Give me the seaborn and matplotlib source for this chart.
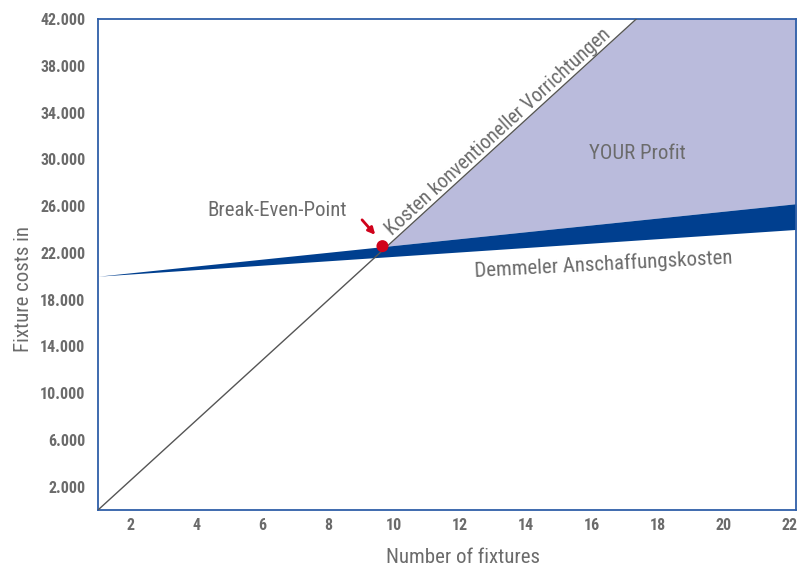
import numpy as np
import pandas as pd
import matplotlib
matplotlib.use("Agg")
import matplotlib.pyplot as plt
from matplotlib import font_manager
import seaborn as sns

# ---- data ----
fixtures = [1.0, 22.2]
conventional_costs = [0.0, 54460.0]      # Kosten konventioneller Vorrichtungen
demmeler_upper = [20000.0, 26200.0]      # Demmeler Anschaffungskosten (upper edge)
demmeler_lower = [20000.0, 24000.0]      # Demmeler Anschaffungskosten (lower edge)
break_even = (9.64, 22570.0)
x_ticks = [2, 4, 6, 8, 10, 12, 14, 16, 18, 20, 22]
y_ticks = [2000, 6000, 10000, 14000, 18000, 22000, 26000, 30000, 34000, 38000, 42000]
y_ticklabels = ["2.000", "6.000", "10.000", "14.000", "18.000", "22.000",
                "26.000", "30.000", "34.000", "38.000", "42.000"]

sns.set_style("white")
fam = ['DejaVu Sans']
for cand in ['Roboto Condensed', 'Liberation Sans Narrow', 'DejaVu Sans Condensed']:
    if any(f.name == cand for f in font_manager.fontManager.ttflist):
        fam = [cand, 'DejaVu Sans']
        break
plt.rcParams['font.family'] = fam
plt.rcParams['font.stretch'] = 'condensed'

GRAY = "#6b6b6b"
NAVY = "#003f8f"
LILAC = "#babbdc"
SPINE = "#2f5fa8"
RED = "#d0021b"
FS = 15

fig = plt.figure(figsize=(8.11, 5.69), dpi=100)
ax = fig.add_axes([98/811, 59/569, 698/811, 491/569])

df = pd.DataFrame({"x": fixtures, "conv": conventional_costs,
                   "up": demmeler_upper, "lo": demmeler_lower})

xs = np.linspace(fixtures[0], fixtures[1], 400)
conv = np.interp(xs, fixtures, conventional_costs)
up = np.interp(xs, fixtures, demmeler_upper)
lo = np.interp(xs, fixtures, demmeler_lower)

ax.fill_between(xs, up, conv, where=conv >= up, color=LILAC, lw=0, interpolate=True, zorder=1)
ax.fill_between(xs, lo, up, color=NAVY, lw=0, zorder=2)
sns.lineplot(data=df, x="x", y="conv", ax=ax, color="#555555", lw=1.0, zorder=3)
ax.scatter([break_even[0]], [break_even[1]], s=75, color=RED, zorder=5, edgecolor="none")

ax.set_xlim(1, 22.2)
ax.set_ylim(0, 42000)
ax.set_xticks(x_ticks)
ax.set_xticklabels([str(t) for t in x_ticks])
ax.set_yticks(y_ticks)
ax.set_yticklabels(y_ticklabels)
ax.tick_params(length=0, labelsize=11.5, colors=GRAY)
ax.tick_params(axis="y", pad=9)
ax.tick_params(axis="x", pad=6)
for lab in ax.get_xticklabels() + ax.get_yticklabels():
    lab.set_fontweight("bold")
ax.set_xlabel("Number of fixtures", fontsize=FS, color=GRAY)
ax.set_ylabel("Fixture costs in", fontsize=FS, color=GRAY)
ax.xaxis.set_label_coords(0.523, -0.0774)
ax.yaxis.set_label_coords(-0.093, 0.450)
for s in ax.spines.values():
    s.set_color(SPINE)
    s.set_linewidth(1.3)
    s.set_visible(True)

ax.text(17.38, 30460, "YOUR Profit", fontsize=FS, color=GRAY, ha="center", va="center")
ax.text(6.43, 25590, "Break-Even-Point", fontsize=FS, color=GRAY, ha="center", va="center")
ax.text(16.35, 21000, "Demmeler Anschaffungskosten", fontsize=FS, color=GRAY,
        ha="center", va="center", rotation=3.0, rotation_mode="anchor")
ax.annotate("Kosten konventioneller Vorrichtungen", xy=(13.35, 2569 * 12.35), xytext=(-2.0, 2.2),
            textcoords="offset points", fontsize=14.5, color=GRAY,
            ha="center", va="baseline", rotation=42.4, rotation_mode="anchor")
ax.annotate("", xy=(9.42, 23540), xytext=(9.02, 24820),
            arrowprops=dict(arrowstyle="-|>", color=RED, lw=2, mutation_scale=10,
                            shrinkA=0, shrinkB=0))

fig.savefig("out.png", dpi=100, facecolor="white")
